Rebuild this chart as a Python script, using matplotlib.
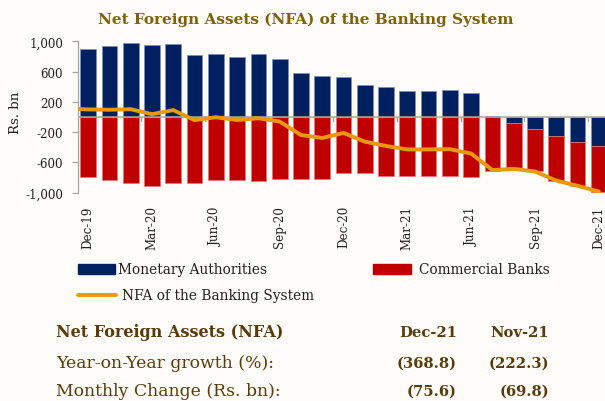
import matplotlib
matplotlib.use("Agg")
import matplotlib.pyplot as plt
from matplotlib.transforms import Affine2D
from matplotlib.patches import Rectangle
from matplotlib.lines import Line2D

# ---------------- data ----------------
months = ["Dec-19", "Jan-20", "Feb-20", "Mar-20", "Apr-20", "May-20", "Jun-20",
          "Jul-20", "Aug-20", "Sep-20", "Oct-20", "Nov-20", "Dec-20", "Jan-21",
          "Feb-21", "Mar-21", "Apr-21", "May-21", "Jun-21", "Jul-21", "Aug-21",
          "Sep-21", "Oct-21", "Nov-21", "Dec-21"]
monetary_authorities = [898, 933, 977, 951, 959, 823, 836, 792, 832, 766, 581, 546,
                        528, 418, 396, 347, 347, 357, 312, 13, -77, -155, -251, -331, -383]
commercial_banks = [-798, -837, -872, -912, -868, -868, -837, -832, -846, -824, -819, -824,
                    -740, -745, -779, -775, -775, -779, -793, -713, -606, -563, -589, -578, -602]
nfa_prev_month = 112   # Nov-19 value (segment clipped at the axis)
nfa_banking = [100, 96, 103, 37, 91, -42, -3, -40, -16, -60, -238, -277,
               -211, -325, -383, -428, -428, -425, -483, -701, -685, -720, -840, -909, -985]
tick_labels = months[::3]
yticks = [1000, 600, 200, -200, -600, -1000]

table_header = ["Net Foreign Assets (NFA)", "Dec-21", "Nov-21"]
table_rows = [["Year-on-Year growth (%):", "(368.8)", "(222.3)"],
              ["Monthly Change (Rs. bn):", "(75.6)", "(69.8)"]]

# ---------------- style ----------------
W, H = 605, 402
BG = "#FDFCF8"
NAVY = "#002060"
RED = "#C00000"
ORANGE = "#E99A0C"
TITLE_C = "#7E6108"
TEXT_C = "#5A3C0C"
FONT = "DejaVu Serif"

plt.rcParams["font.family"] = FONT
fig = plt.figure(figsize=(W / 100, H / 100), dpi=100, facecolor=BG)
px = Affine2D().scale(1 / W, -1 / H).translate(0, 1) + fig.transFigure

ax_l, ax_r, ax_t, ax_b = 77.5, 609.5, 42.3, 193.7
ax = fig.add_axes([ax_l / W, 1 - ax_b / H, (ax_r - ax_l) / W, (ax_b - ax_t) / H])
ax.set_facecolor(BG)

x = list(range(len(months)))
cb_bottom = [m if m < 0 else 0 for m in monetary_authorities]

ax.bar(x, monetary_authorities, width=0.74, color=NAVY, edgecolor="#7f8fb8",
       linewidth=0.5, zorder=2)
ax.bar(x, commercial_banks, bottom=cb_bottom, width=0.74, color=RED,
       edgecolor="#e27a7a", linewidth=0.5, zorder=2)
ax.axhline(0, color="#a6a6a6", linewidth=1.1, zorder=3)
ax.plot([-1] + x, [nfa_prev_month] + nfa_banking, color=ORANGE, linewidth=2.8,
        solid_joinstyle="round", solid_capstyle="round", zorder=4)

# small category-axis tick marks on the zero line (between categories)
for b in range(2, len(x), 3):
    ax.plot([b + 0.5, b + 0.5], [0, -55], color="#a6a6a6", linewidth=0.9, zorder=1)

ax.set_xlim(-0.5, len(x) - 0.5)
ax.set_ylim(-1000, 1000)
ax.set_yticks(yticks)
ax.set_yticklabels([f"{v:,}" for v in yticks], fontsize=8.6, color="#222222")
ax.set_xticks(x[::3])
ax.set_xticklabels(tick_labels, rotation=90, fontsize=8.6, color="#222222",
                   va="top", ha="center")
ax.tick_params(axis="y", length=4.5, width=0.9, color="#a6a6a6", pad=6)
ax.tick_params(axis="x", length=0, pad=9)
for s in ["top", "right", "bottom"]:
    ax.spines[s].set_visible(False)
ax.spines["left"].set_color("#a6a6a6")
ax.spines["left"].set_linewidth(0.9)
ax.set_ylabel("Rs. bn", fontsize=9.6, color="#222222")
ax.yaxis.set_label_coords(-0.104, 0.536)

# title
fig.text(306, 20, "Net Foreign Assets (NFA) of the Banking System", transform=px,
         ha="center", va="center", fontsize=11.0, fontweight="bold", color=TITLE_C)

# legend (manual)
fig.add_artist(Rectangle((78, 265), 37, 10, transform=px, color=NAVY))
fig.text(118, 270, "Monetary Authorities", transform=px, ha="left", va="center",
         fontsize=9.9, color="#222222")
fig.add_artist(Rectangle((373, 265), 38, 10, transform=px, color=RED))
fig.text(419, 270, "Commercial Banks", transform=px, ha="left", va="center",
         fontsize=9.9, color="#222222")
fig.add_artist(Line2D([78, 116], [296, 296], transform=px, color=ORANGE, linewidth=2.8,
                      solid_capstyle="round"))
fig.text(122, 296, "NFA of the Banking System", transform=px, ha="left", va="center",
         fontsize=9.9, color="#222222")

# table
col_x = [56, 457, 549]
fig.text(col_x[0], 333, table_header[0], transform=px, ha="left", va="center",
         fontsize=11.5, fontweight="bold", color=TEXT_C)
fig.text(col_x[1], 333, table_header[1], transform=px, ha="right", va="center",
         fontsize=10.6, fontweight="bold", color=TEXT_C)
fig.text(col_x[2], 333, table_header[2], transform=px, ha="right", va="center",
         fontsize=10.6, fontweight="bold", color=TEXT_C)
for i, row in enumerate(table_rows):
    yy = 364 + i * 28
    fig.text(col_x[0], yy, row[0], transform=px, ha="left", va="center",
             fontsize=12.4, color=TEXT_C)
    fig.text(col_x[1], yy, row[1], transform=px, ha="right", va="center",
             fontsize=10.6, fontweight="bold", color=TEXT_C)
    fig.text(col_x[2], yy, row[2], transform=px, ha="right", va="center",
             fontsize=10.6, fontweight="bold", color=TEXT_C)

fig.savefig("out.png", dpi=100, facecolor=BG)
